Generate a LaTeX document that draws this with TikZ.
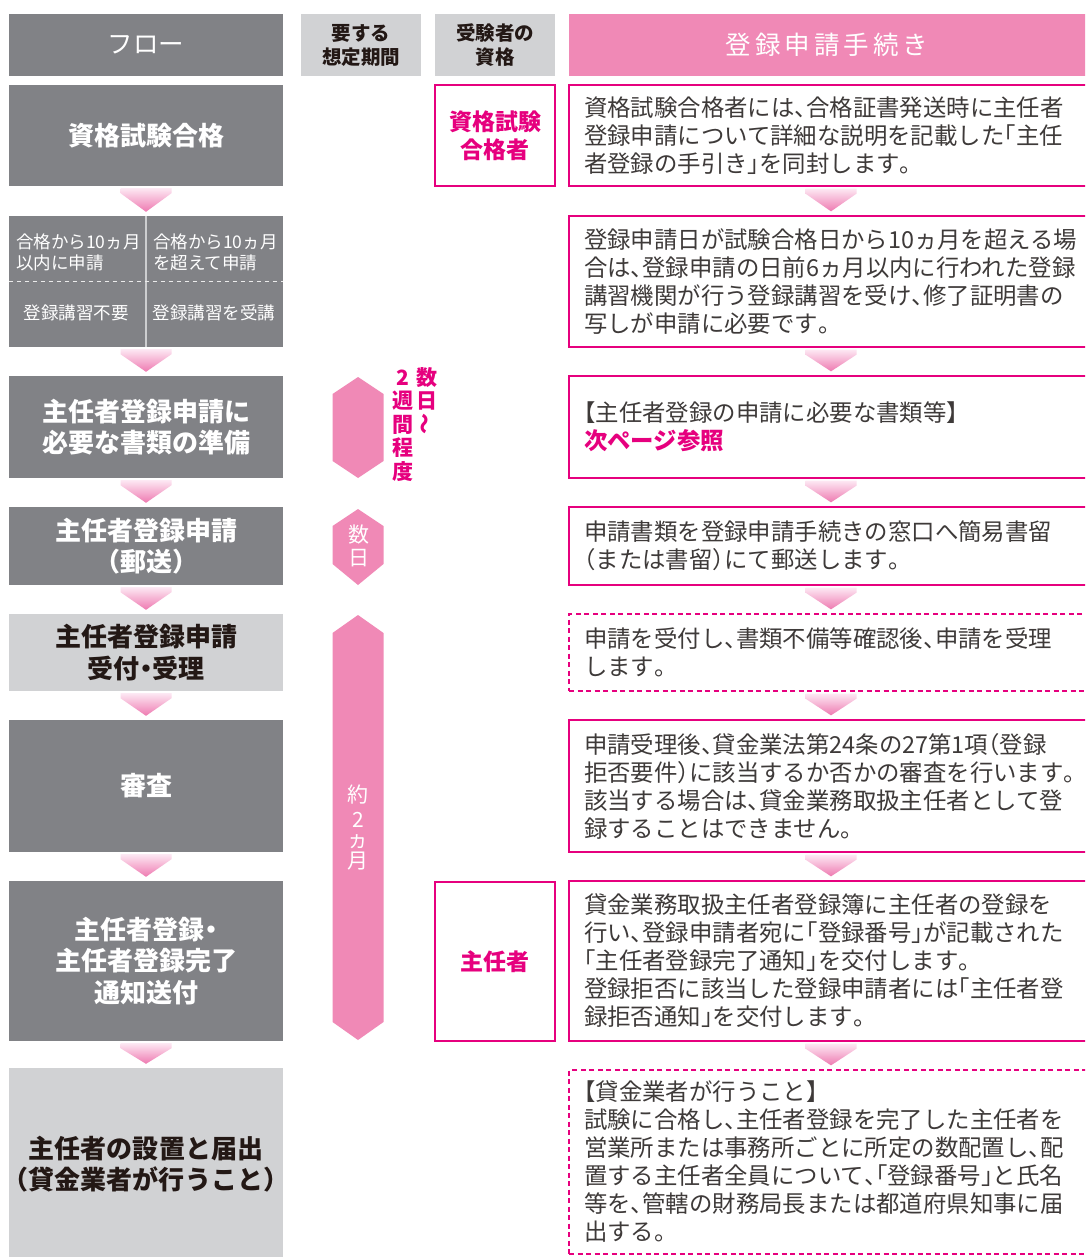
\documentclass[tikz,border=0pt]{standalone}
\usepackage{fontspec}
\setmainfont{Noto Sans CJK JP}
\usepackage{graphicx}
\usetikzlibrary{calc}
\definecolor{fdark}{RGB}{129,130,134}
\definecolor{flight}{RGB}{209,210,212}
\definecolor{hpink}{RGB}{240,137,182}
\definecolor{mag}{RGB}{230,0,126}
\definecolor{btext}{RGB}{62,58,57}
\definecolor{dtext}{RGB}{35,24,21}
\definecolor{chtop}{RGB}{253,232,243}
\definecolor{chbot}{RGB}{238,122,177}
\definecolor{divgray}{RGB}{205,206,208}
% half-width punctuation
\catcode`、=\active \def、{\makebox[.5em][l]{\char"3001}}
\catcode`。=\active \def。{\makebox[.5em][l]{\char"3002}}
\catcode`「=\active \def「{\makebox[.5em][r]{\char"300C}}
\catcode`」=\active \def」{\makebox[.5em][l]{\char"300D}}
\catcode`（=\active \def（{\makebox[.5em][r]{\char"FF08}}
\catcode`）=\active \def）{\makebox[.5em][l]{\char"FF09}}
\catcode`【=\active \def【{\makebox[.5em][r]{\char"3010}}
\catcode`】=\active \def】{\makebox[.5em][l]{\char"3011}}
\catcode`・=\active \def・{\makebox[.5em][c]{\char"30FB}}
\newcommand\fwl{\char"FF08}
\newcommand\fwr{\char"FF09}
\newcommand\myflow{\bfseries\fontsize{26}{31.5}\selectfont}
\newcommand\mybody{\fontsize{23.4}{28}\selectfont}
\newcommand\myqual{\bfseries\fontsize{23}{28}\selectfont}
\newcommand\myhead{\bfseries\fontsize{19.5}{24}\selectfont}
\newcommand\mysmall{\fontsize{17.5}{21}\selectfont}
\newcommand\myvert{\fontsize{21}{23}\selectfont}
\newcommand\chev[2]{%
  \shade[top color=chtop,bottom color=chbot]
    let \p1=(#1.south), \p2=(#2.north) in
    (\x1-25.5pt,\y1-2pt) -- (\x1+25.5pt,\y1-2pt) -- (\x1+25.5pt,\y1-7pt)
    -- (\x1,\y2+4pt) -- (\x1-25.5pt,\y1-7pt) -- cycle;}
\begin{document}
\begin{tikzpicture}[x=1pt,y=-1pt,
  fd/.style={fill=fdark, text=white, font=\myflow, align=center, minimum width=274pt, inner sep=0pt},
  fl/.style={fill=flight, text=dtext, font=\myflow, align=center, minimum width=274pt, inner sep=0pt},
  hd/.style={minimum height=62pt, inner sep=0pt, align=center},
  rbox/.style={draw=mag, line width=1.3pt, minimum width=524pt, text width=494pt, inner xsep=15pt, inner ysep=0pt, align=left, text=btext, font=\mybody},
  rboxd/.style={rbox, dash pattern=on 5pt off 3.5pt},
  qbox/.style={draw=mag, line width=1.3pt, minimum width=120pt, inner sep=0pt, align=center, text=mag, font=\myqual},
  stxt/.style={text=white, font=\mysmall, inner sep=0pt, align=left},
  vmag/.style={text=mag, font=\myvert\bfseries, inner sep=0pt},
  vwht/.style={text=white, font=\myvert, inner sep=0pt}]
\useasboundingbox (0,0) rectangle (1085,1257);
\clip (0,0) rectangle (1085,1257);
\fill[white] (0,0) rectangle (1085,1257);

% headers
\node[hd, fill=fdark, minimum width=274pt, text=white, font=\fontsize{25.5}{28}\selectfont] (h1) at (146,45) {フロー};
\node[hd, fill=flight, minimum width=120pt, text=dtext, font=\myhead] (h2) at (361,45) {要する\\想定期間};
\node[hd, fill=flight, minimum width=120pt, text=dtext, font=\myhead] (h3) at (495,45) {受験者の\\資格};
\node[hd, fill=hpink, minimum width=524pt, text=white, font=\fontsize{25.5}{30}\selectfont] (h4) at (831,45)
  {\hspace{-8pt}登\hspace{4pt}録\hspace{4pt}申\hspace{4pt}請\hspace{4pt}手\hspace{4pt}続\hspace{4pt}き};

% flow column
\node[fd, minimum height=101pt] (f1) at (146,135.5) {資格試験合格};
\node[fd, minimum height=131pt] (f2) at (146,281.5) {};
\node[fd, minimum height=102pt] (f3) at (146,427) {主任者登録申請に\\必要な書類の準備};
\node[fd, minimum height=78pt] (f4) at (146,546) {主任者登録申請\\\fwl 郵送\fwr};
\node[fl, minimum height=77pt] (f5) at (146,652.5) {主任者登録申請\\受付・受理};
\node[fd, minimum height=132pt] (f6) at (146,786) {審査};
\node[fd, minimum height=160pt] (f7) at (146,961) {主任者登録・\\主任者登録完了\\通知送付};
\node[fl, minimum height=192pt, text width=274pt] (f8) at (146,1164) {主任者の設置と届出\\（貸金業者が行うこと）};

% split box details
\draw[divgray, line width=2pt] (f2.north) -- (f2.south);
\draw[white!92!black, line width=1pt, dash pattern=on 4.5pt off 3.5pt] (f2.west) -- (f2.east);
\node[stxt, anchor=west] (f2a) at (16,252) {合格から10ヵ月\\以内に申請};
\node[stxt, anchor=west] (f2b) at (153,252) {合格から10ヵ月\\を超えて申請};
\node[stxt] (f2c) at (76,313) {登録講習不要};
\node[stxt] (f2d) at (214,313) {登録講習を受講};

% qualification boxes
\node[qbox, minimum height=101pt] (q1) at (495,135.5) {資格試験\\合格者};
\node[qbox, minimum height=159pt] (q7) at (495,961.5) {主任者};

% period shapes
\fill[hpink] (358,377) -- (383.5,394) -- (383.5,461) -- (358,478) -- (332.5,461) -- (332.5,394) -- cycle;
\fill[hpink] (358,509) -- (383.5,526) -- (383.5,564) -- (358,585) -- (332.5,564) -- (332.5,526) -- cycle;
\fill[hpink] (358,615) -- (383.5,633) -- (383.5,1022) -- (358,1040) -- (332.5,1022) -- (332.5,633) -- cycle;

\node[vmag] (va1) at (427,378) {数};
\node[vmag] (va2) at (427,401) {日};
\node[vmag] (va3) at (427,424) {\rotatebox[origin=c]{90}{～}};
\node[vmag] (vb1) at (403,378) {2};
\node[vmag] (vb2) at (403,401) {週};
\node[vmag] (vb3) at (403,425) {間};
\node[vmag] (vb4) at (403,448) {程};
\node[vmag] (vb5) at (403,472) {度};

\node[vwht] (vc1) at (359,535) {数};
\node[vwht] (vc2) at (359,558) {日};

\node[vwht] (vd1) at (358,795) {約};
\node[vwht] (vd2) at (358,820) {2};
\node[vwht] (vd3) at (358,842) {ヵ};
\node[vwht] (vd4) at (358,861) {月};

% right column
\node[rbox, minimum height=101pt] (r1) at (831,135.5) {資格試験合格者には、合格証書発送時に主任者\\登録申請について詳細な説明を記載した「主任\\者登録の手引き」を同封します。};
\node[rbox, minimum height=131pt] (r2) at (831,281.5) {登録申請日が試験合格日から10ヵ月を超える場\\合は、登録申請の日前6ヵ月以内に行われた登録\\講習機関が行う登録講習を受け、修了証明書の\\写しが申請に必要です。};
\node[rbox, minimum height=102pt] (r3) at (831,427) {【主任者登録の申請に必要な書類等】\\{\color{mag}\bfseries 次ページ参照}};
\node[rbox, minimum height=78pt] (r4) at (831,546) {申請書類を登録申請手続きの窓口へ簡易書留\\（または書留）にて郵送します。};
\node[rboxd, minimum height=77pt] (r5) at (831,652.5) {申請を受付し、書類不備等確認後、申請を受理\\します。};
\node[rbox, minimum height=132pt] (r6) at (831,786) {申請受理後、貸金業法第24条の27第1項（登録\\拒否要件）に該当するか否かの審査を行います。\\該当する場合は、貸金業務取扱主任者として登\\録することはできません。};
\node[rbox, minimum height=160pt] (r7) at (831,961) {貸金業務取扱主任者登録簿に主任者の登録を\\行い、登録申請者宛に「登録番号」が記載された\\「主任者登録完了通知」を交付します。\\登録拒否に該当した登録申請者には「主任者登\\録拒否通知」を交付します。};
\node[rboxd, minimum height=184pt] (r8) at (831,1162) {【貸金業者が行うこと】\\試験に合格し、主任者登録を完了した主任者を\\営業所または事務所ごとに所定の数配置し、配\\置する主任者全員について、「登録番号」と氏名\\等を、管轄の財務局長または都道府県知事に届\\出する。};

% chevrons
\chev{f1}{f2}\chev{f2}{f3}\chev{f3}{f4}\chev{f4}{f5}\chev{f5}{f6}\chev{f6}{f7}\chev{f7}{f8}
\chev{r1}{r2}\chev{r2}{r3}\chev{r3}{r4}\chev{r4}{r5}\chev{r5}{r6}\chev{r6}{r7}\chev{r7}{r8}
\end{tikzpicture}
\end{document}
